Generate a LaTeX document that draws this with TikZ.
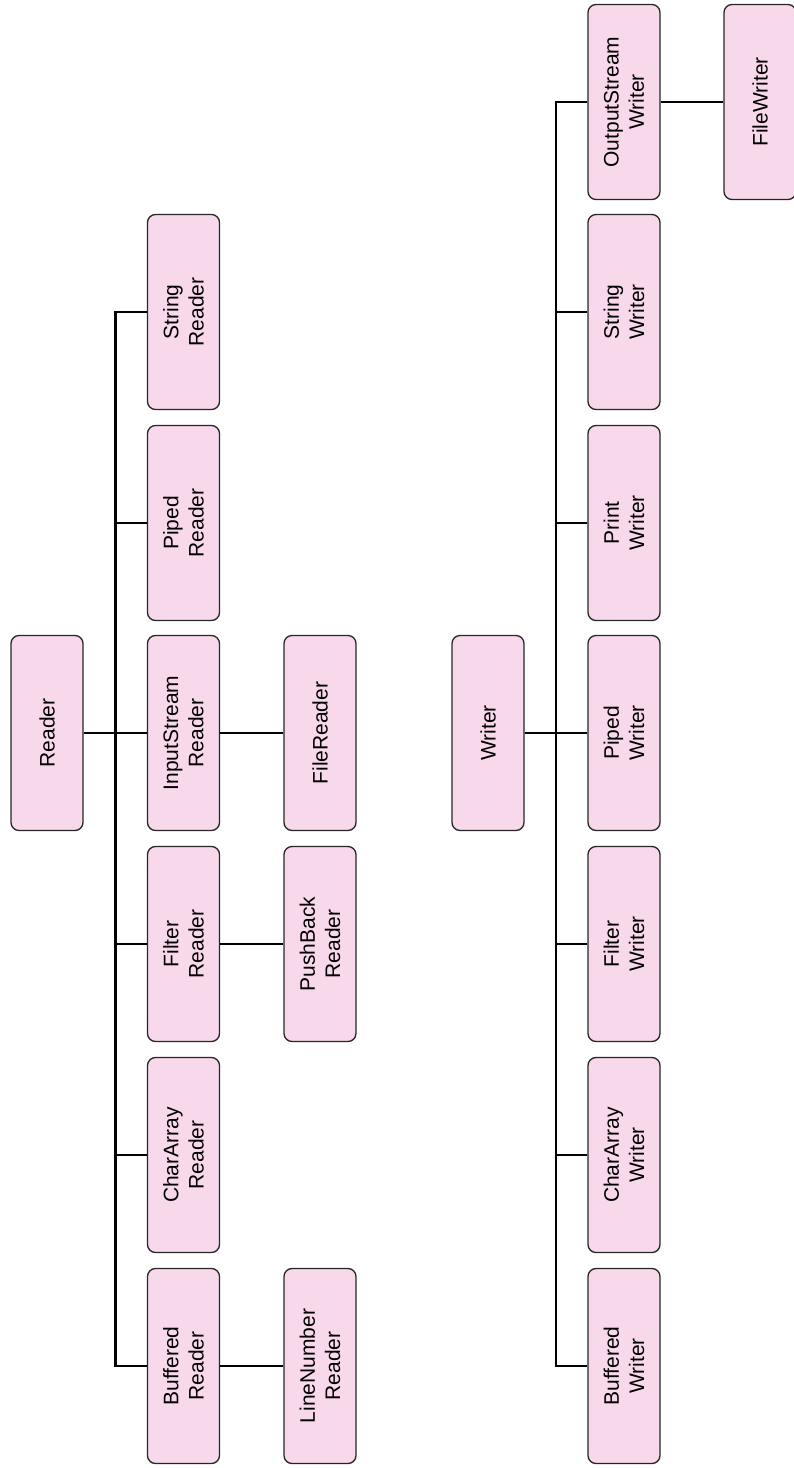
\documentclass[tikz,border=0pt]{standalone}
\usepackage{fontspec}
\setmainfont{Liberation Sans}
\definecolor{boxpink}{HTML}{F8D8EB}
\begin{document}
\begin{tikzpicture}[x=0.75pt,y=-0.75pt,
  cls/.style={draw=black!85,fill=boxpink,line width=1pt,rounded corners=6pt,
    rotate=90,minimum width=146.25pt,minimum height=54pt,inner sep=0pt,
    align=center,font=\fontsize{15.75}{18.9}\selectfont},
  conn/.style={line width=1.6pt,black}]
\useasboundingbox (0,0) rectangle (793,1468);
% Reader tree
\node[cls] (R) at (47,733) {Reader};
\node[cls] (Rstr) at (183.5,312) {String\\Reader};
\node[cls] (Rpip) at (183.5,523) {Piped\\Reader};
\node[cls] (Rin) at (183.5,733) {InputStream\\Reader};
\node[cls] (Rfil) at (183.5,944) {Filter\\Reader};
\node[cls] (Rcha) at (183.5,1155) {CharArray\\Reader};
\node[cls] (Rbuf) at (183.5,1366) {Buffered\\Reader};
\node[cls] (Rfile) at (320,733) {FileReader};
\node[cls] (Rpush) at (320,944) {PushBack\\Reader};
\node[cls] (Rline) at (320,1366) {LineNumber\\Reader};
\coordinate (rtA) at (115.5,312);
\coordinate (rtB) at (115.5,1366);
\draw[conn] (Rstr.north) -- (rtA) -- (rtB) -- (Rbuf.north);
\draw[conn] (R.south) -- (Rin.north);
\draw[conn] (Rpip.north) -- (Rpip.north -| rtA);
\draw[conn] (Rfil.north) -- (Rfil.north -| rtA);
\draw[conn] (Rcha.north) -- (Rcha.north -| rtA);
\draw[conn] (Rin.south) -- (Rfile.north);
\draw[conn] (Rfil.south) -- (Rpush.north);
\draw[conn] (Rbuf.south) -- (Rline.north);
% Writer tree
\node[cls] (W) at (488,733) {Writer};
\node[cls] (Wout) at (624,102) {OutputStream\\Writer};
\node[cls] (Wstr) at (624,312) {String\\Writer};
\node[cls] (Wpri) at (624,523) {Print\\Writer};
\node[cls] (Wpip) at (624,733) {Piped\\Writer};
\node[cls] (Wfil) at (624,944) {Filter\\Writer};
\node[cls] (Wcha) at (624,1155) {CharArray\\Writer};
\node[cls] (Wbuf) at (624,1366) {Buffered\\Writer};
\node[cls] (Wfile) at (760,102) {FileWriter};
\coordinate (wtA) at (556,102);
\coordinate (wtB) at (556,1366);
\draw[conn] (Wout.north) -- (wtA) -- (wtB) -- (Wbuf.north);
\draw[conn] (W.south) -- (Wpip.north);
\draw[conn] (Wstr.north) -- (Wstr.north -| wtA);
\draw[conn] (Wpri.north) -- (Wpri.north -| wtA);
\draw[conn] (Wfil.north) -- (Wfil.north -| wtA);
\draw[conn] (Wcha.north) -- (Wcha.north -| wtA);
\draw[conn] (Wout.south) -- (Wfile.north);
\end{tikzpicture}
\end{document}
